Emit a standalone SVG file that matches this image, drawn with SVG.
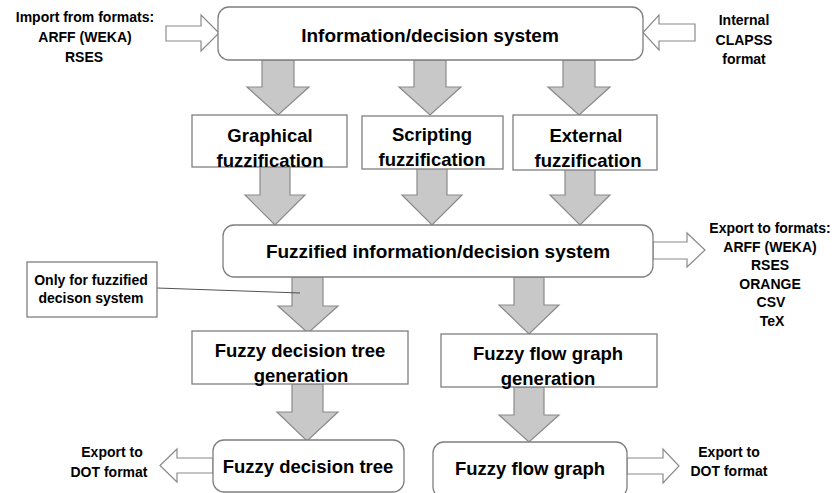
<svg xmlns="http://www.w3.org/2000/svg" width="838" height="493" viewBox="0 0 838 493">
<style>
.bg{fill:#ffffff}
.box{fill:#ffffff;stroke:#7f7f7f;stroke-width:1.3}
.big{fill:#c8c8c8;stroke:#8a8a8a;stroke-width:1.2}
.hol{fill:#ffffff;stroke:#8a8a8a;stroke-width:1.2}
.lead{fill:none;stroke:#404040;stroke-width:0.9}
text{font-family:"Liberation Sans",Arial,sans-serif;font-weight:bold;fill:#000000;text-anchor:middle}
.t{font-size:18.5px}
.tl{font-size:19px}
.s{font-size:14px}
</style>
<rect class="bg" x="0" y="0" width="838" height="493"/>
<g id="connectors">
  <path class="big" d="M262,60 H294 V87 H309 L278,115 L247,87 H262 Z"/>
  <path class="big" d="M414,60 H446 V87 H461 L430,115 L399,87 H414 Z"/>
  <path class="big" d="M563,60 H595 V87 H610 L579,115 L548,87 H563 Z"/>
  <path class="big" d="M260,166 H290 V195 H305 L275,225 L245,195 H260 Z"/>
  <path class="big" d="M417,168 H447 V195 H462 L432,225 L402,195 H417 Z"/>
  <path class="big" d="M565,169 H595 V195 H610 L580,225 L550,195 H565 Z"/>
  <path class="big" d="M292,277 H323 V306 H338 L308,333 L278,306 H292 Z"/>
  <path class="big" d="M514,277 H544 V305 H559 L529,334 L499,305 H514 Z"/>
  <path class="big" d="M292,384 H323 V412 H338 L307,441 L277,412 H292 Z"/>
  <path class="big" d="M514,387 H544 V415 H559 L529,442 L499,415 H514 Z"/>
  <path class="hol" d="M166,26 H201 V15 L219,33 L201,51 V41 H166 Z"/>
  <path class="hol" d="M695,24 H659 V15 L643,32.5 L659,50 V41 H695 Z"/>
  <path class="hol" d="M653,242 H687 V233 L705,250 L687,267 V259 H653 Z"/>
  <path class="hol" d="M213,458 H177 V449 L160,465.5 L177,482 V473 H213 Z"/>
  <path class="hol" d="M627,458 H663 V449 L679,466 L663,483 V474 H627 Z"/>
  <path class="lead" d="M157,288 L300,293"/>
</g>
<g id="import-label">
  <text class="s" x="85" y="22">Import from formats:</text>
  <text class="s" x="85" y="42">ARFF (WEKA)</text>
  <text class="s" x="84" y="62">RSES</text>
</g>
<g id="internal-label">
  <text class="s" x="744" y="25">Internal</text>
  <text class="s" x="744" y="45">CLAPSS</text>
  <text class="s" x="744" y="64">format</text>
</g>
<g id="info-system">
  <rect class="box" x="218" y="7" width="425" height="53" rx="11"/>
  <text class="tl" x="430" y="42">Information/decision system</text>
</g>
<g id="graphical">
  <rect class="box" x="192" y="115" width="155" height="52"/>
  <text class="t" x="270" y="142">Graphical</text>
  <text class="t" x="270" y="167">fuzzification</text>
</g>
<g id="scripting">
  <rect class="box" x="362" y="116" width="141" height="53"/>
  <text class="t" x="432" y="141">Scripting</text>
  <text class="t" x="432" y="166">fuzzification</text>
</g>
<g id="external">
  <rect class="box" x="513" y="115" width="144" height="55"/>
  <text class="t" x="586" y="142">External</text>
  <text class="t" x="588" y="167">fuzzification</text>
</g>
<g id="fuzzified-system">
  <rect class="box" x="223" y="225" width="430" height="52" rx="11"/>
  <text class="tl" x="438" y="258">Fuzzified information/decision system</text>
</g>
<g id="export-formats">
  <text class="s" x="770" y="233">Export to formats:</text>
  <text class="s" x="770" y="252">ARFF (WEKA)</text>
  <text class="s" x="770" y="270">RSES</text>
  <text class="s" x="770" y="289">ORANGE</text>
  <text class="s" x="771" y="307">CSV</text>
  <text class="s" x="772" y="326">TeX</text>
</g>
<g id="note">
  <rect class="box" x="27" y="262" width="130" height="55"/>
  <text class="s" x="91" y="285">Only for fuzzified</text>
  <text class="s" x="91" y="303">decison system</text>
</g>
<g id="tree-generation">
  <rect class="box" x="192" y="331" width="216" height="53"/>
  <text class="t" x="300" y="357">Fuzzy decision tree</text>
  <text class="t" x="301" y="382">generation</text>
</g>
<g id="flow-generation">
  <rect class="box" x="441" y="334" width="216" height="53"/>
  <text class="t" x="548" y="360">Fuzzy flow graph</text>
  <text class="t" x="548" y="385">generation</text>
</g>
<g id="decision-tree">
  <rect class="box" x="213" y="440" width="191" height="52" rx="11"/>
  <text class="t" x="308" y="473">Fuzzy decision tree</text>
</g>
<g id="flow-graph">
  <rect class="box" x="433" y="442" width="194" height="56" rx="11"/>
  <text class="t" x="530" y="475">Fuzzy flow graph</text>
</g>
<g id="dot-left">
  <text class="s" x="112" y="457">Export to</text>
  <text class="s" x="109" y="477">DOT format</text>
</g>
<g id="dot-right">
  <text class="s" x="729" y="457">Export to</text>
  <text class="s" x="729" y="476">DOT format</text>
</g>
</svg>
